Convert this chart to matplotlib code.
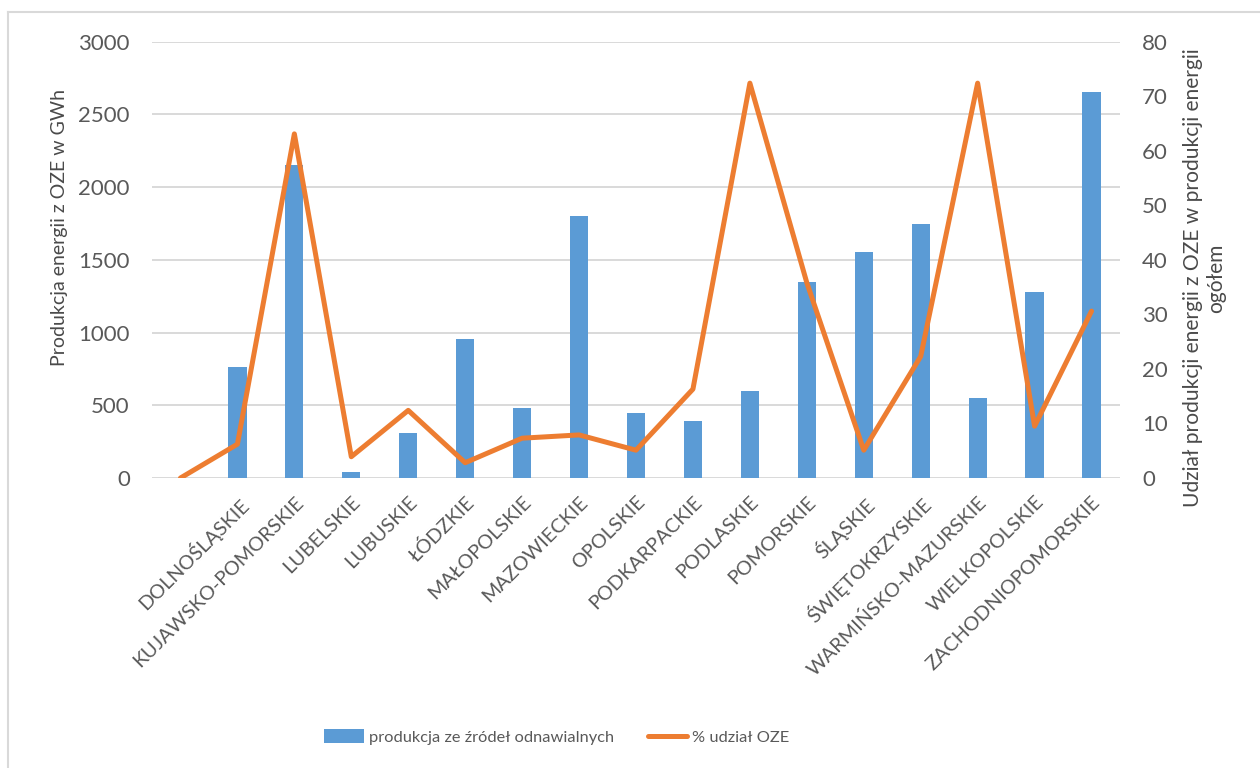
import numpy as np
import matplotlib
matplotlib.use("Agg")
import matplotlib.pyplot as plt
from matplotlib.patches import Patch
from matplotlib.lines import Line2D

# Voivodeships (the first category slot is left empty)
regions = ["", "DOLNOŚLĄSKIE", "KUJAWSKO-POMORSKIE", "LUBELSKIE", "LUBUSKIE",
           "ŁÓDZKIE", "MAŁOPOLSKIE", "MAZOWIECKIE", "OPOLSKIE", "PODKARPACKIE",
           "PODLASKIE", "POMORSKIE", "ŚLĄSKIE", "ŚWIĘTOKRZYSKIE",
           "WARMIŃSKO-MAZURSKIE", "WIELKOPOLSKIE", "ZACHODNIOPOMORSKIE"]

# Renewable energy production [GWh]
production = [np.nan, 764, 2149, 43, 312, 954, 480, 1801, 445, 394,
              599, 1347, 1551, 1748, 551, 1280, 2657]

# Share of renewables in total energy production [%]
share = [0, 6.2, 63.1, 3.9, 12.4, 2.8, 7.3, 7.9, 5.1, 16.3,
         72.4, 35.8, 5.1, 22.3, 72.4, 9.5, 30.6]

bar_color = "#5B9BD5"
line_color = "#ED7D31"
text_color = "#595959"
title_color = "#4A4A4A"
grid_color = "#D9D9D9"

plt.rcParams["font.family"] = ["Lato", "DejaVu Sans"]

W, H = 1260, 768
fig = plt.figure(figsize=(W / 100, H / 100), dpi=100)

# axes box in pixel coordinates
x0, x1, y0, y1 = 152, 1120, 478, 41.7
ax = fig.add_axes([x0 / W, 1 - y0 / H, (x1 - x0) / W, (y0 - y1) / H])

x = np.arange(len(regions))
ax.bar(x, production, width=0.32, color=bar_color, zorder=2)
ax.set_xlim(-0.5, len(regions) - 0.5)
ax.set_ylim(0, 3000)
ax.set_yticks(np.arange(0, 3001, 500))
ax.yaxis.grid(True, color=grid_color, linewidth=1.4, zorder=0)
ax.set_axisbelow(True)
for s in ax.spines.values():
    s.set_visible(False)
ax.tick_params(axis="y", length=0, pad=16, labelsize=16, labelcolor=text_color)
ax.tick_params(axis="x", length=0, pad=11, labelsize=14.3, labelcolor=text_color)
ax.set_xticks(x)
ax.set_xticklabels(regions, rotation=45, ha="right", va="top",
                   rotation_mode="anchor")

ax2 = ax.twinx()
ax2.plot(x, share, color=line_color, linewidth=3.6,
         solid_joinstyle="round", solid_capstyle="round", zorder=3)
ax2.set_ylim(0, 80)
ax2.set_yticks(np.arange(0, 81, 10))
for s in ax2.spines.values():
    s.set_visible(False)
ax2.tick_params(axis="y", length=0, pad=16, labelsize=16, labelcolor=text_color)

# axis titles
fig.text(60 / W, 1 - 227 / H, "Produkcja energii z OZE w GWh", rotation=90,
         ha="center", va="center", fontsize=14, color=title_color)
fig.text(1204.5 / W, 1 - 278 / H,
         "Udział produkcji energii z OZE w produkcji energii\nogółem",
         rotation=90, ha="center", va="center", fontsize=15.1, color=title_color,
         linespacing=1.15, multialignment="center")

# legend
handles = [Patch(facecolor=bar_color, edgecolor="none"),
           Line2D([0], [0], color=line_color, linewidth=3.6,
                  solid_capstyle="round")]
labels = ["produkcja ze źródeł odnawialnych", "% udział OZE"]
fig.legend(handles, labels, loc="center", bbox_to_anchor=(557 / W, 1 - 737 / H),
           ncol=2, frameon=False, fontsize=11.8, handlelength=2.4,
           handleheight=0.95, handletextpad=0.3, columnspacing=2.1,
           labelcolor=text_color)

# light chart-area border
fig.add_artist(Line2D([8 / W, 8 / W], [0, 1 - 12 / H], transform=fig.transFigure,
                      color=grid_color, linewidth=1.5))
fig.add_artist(Line2D([8 / W, 1], [1 - 12 / H, 1 - 12 / H],
                      transform=fig.transFigure, color=grid_color, linewidth=1.5))

fig.savefig("out.png", dpi=100)
